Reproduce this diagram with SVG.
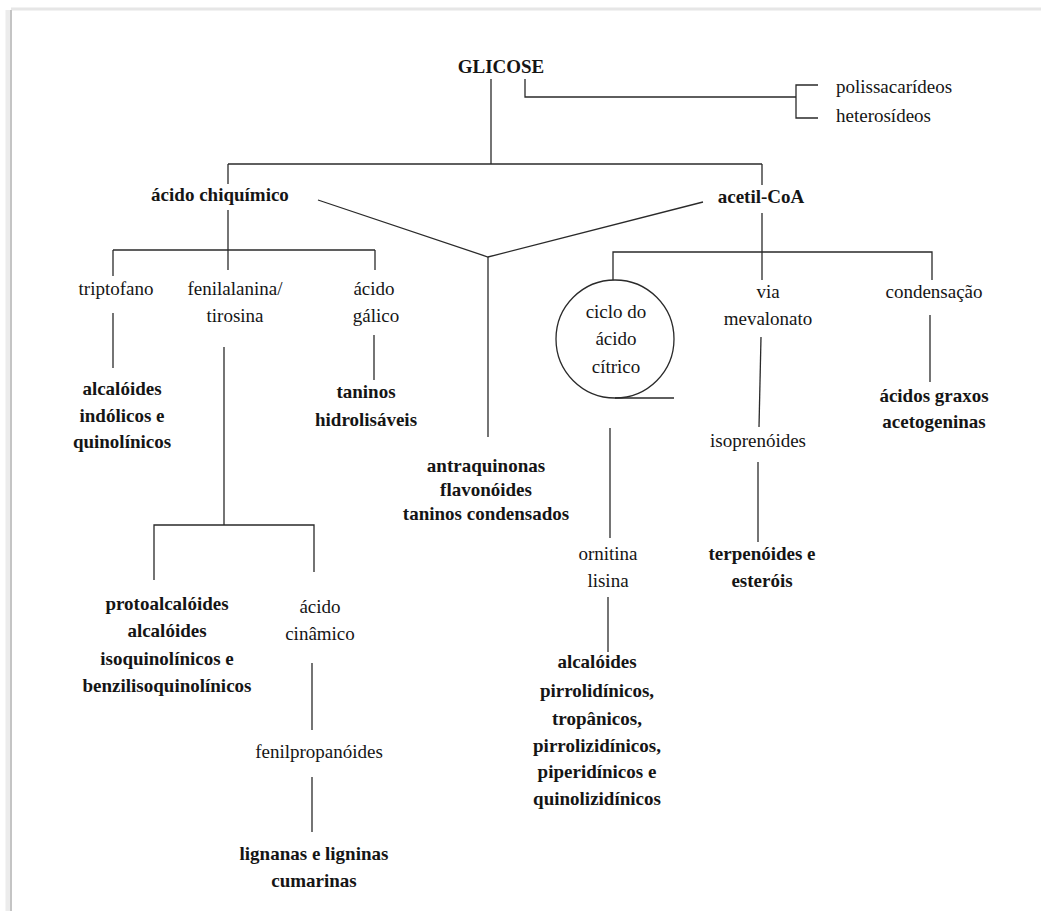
<svg xmlns="http://www.w3.org/2000/svg" width="1041" height="911" viewBox="0 0 1041 911">
<style>
.t{font-family:"Liberation Serif","Times New Roman",serif;font-size:19px;fill:#151515;text-anchor:middle}
.b{font-weight:bold}
.s{text-anchor:start}
.c{fill:none;stroke:#2a2a2a;stroke-width:1.3}
</style>
<rect x="0" y="0" width="1041" height="911" fill="#ffffff"/>
<g id="frame">
<line x1="8" y1="10" x2="8" y2="911" stroke="#ececec" stroke-width="5"/>
<line x1="11" y1="9" x2="1041" y2="9" stroke="#e6e6e6" stroke-width="3"/>
<line x1="11" y1="10" x2="11" y2="911" stroke="#c4c4c4" stroke-width="2"/>
</g>
<g id="connectors">
<path class="c" d="M491,79 V164"/>
<path class="c" d="M525,79 V97 H796"/>
<path class="c" d="M818,85 H796 V118 H818"/>
<path class="c" d="M228,164 H762"/>
<path class="c" d="M228,164 V184"/>
<path class="c" d="M228,210 V270"/>
<path class="c" d="M113,250 H375"/>
<path class="c" d="M113,250 V276"/>
<path class="c" d="M375,250 V270"/>
<path class="c" d="M113,313 V368"/>
<path class="c" d="M374,335 V380"/>
<path class="c" d="M224,347 V525"/>
<path class="c" d="M154,580 V525 H314 V572"/>
<path class="c" d="M312,663 V730"/>
<path class="c" d="M312,777 V832"/>
<path class="c" d="M318,200 L488,257 L703,202"/>
<path class="c" d="M488,257 V437"/>
<path class="c" d="M762,164 V185"/>
<path class="c" d="M762,213 V280"/>
<path class="c" d="M613,280 V252 H932 V280"/>
<path class="c" d="M615,398 H674"/>
<path class="c" d="M610,428 V538"/>
<path class="c" d="M608,597 V652"/>
<path class="c" d="M761,337 L759,427"/>
<path class="c" d="M758,462 V542"/>
<path class="c" d="M930,315 V382"/>
</g>
<g id="glicose"><text class="t b" x="501" y="73">GLICOSE</text></g>
<g id="polissacarideos"><text class="t s" x="836" y="93">polissacarídeos</text><text class="t s" x="836" y="122">heterosídeos</text></g>
<g id="acido-chiquimico"><text class="t b" x="220" y="201">ácido chiquímico</text></g>
<g id="acetil-coa"><text class="t b" x="761" y="203">acetil-CoA</text></g>
<g id="triptofano"><text class="t" x="116" y="295">triptofano</text></g>
<g id="fenilalanina"><text class="t" x="235" y="295">fenilalanina/</text><text class="t" x="235" y="322">tirosina</text></g>
<g id="acido-galico"><text class="t" x="374" y="295">ácido</text><text class="t" x="376" y="322">gálico</text></g>
<g id="alcaloides-indolicos"><text class="t b" x="122" y="395">alcalóides</text><text class="t b" x="122" y="422">indólicos e</text><text class="t b" x="122" y="448">quinolínicos</text></g>
<g id="taninos-hidrolisaveis"><text class="t b" x="366" y="398">taninos</text><text class="t b" x="366" y="426">hidrolisáveis</text></g>
<g id="antraquinonas"><text class="t b" x="486" y="472">antraquinonas</text><text class="t b" x="486" y="496">flavonóides</text><text class="t b" x="486" y="520">taninos condensados</text></g>
<g id="protoalcaloides"><text class="t b" x="167" y="610">protoalcalóides</text><text class="t b" x="167" y="637">alcalóides</text><text class="t b" x="167" y="665">isoquinolínicos e</text><text class="t b" x="167" y="692">benzilisoquinolínicos</text></g>
<g id="acido-cinamico"><text class="t" x="320" y="613">ácido</text><text class="t" x="320" y="640">cinâmico</text></g>
<g id="fenilpropanoides"><text class="t" x="319" y="758">fenilpropanóides</text></g>
<g id="lignanas"><text class="t b" x="314" y="860">lignanas e ligninas</text><text class="t b" x="314" y="887">cumarinas</text></g>
<g id="ciclo-acido-citrico"><circle class="c" cx="615" cy="339" r="59"/><text class="t" x="616" y="318">ciclo do</text><text class="t" x="616" y="345">ácido</text><text class="t" x="616" y="373">cítrico</text></g>
<g id="via-mevalonato"><text class="t" x="768" y="298">via</text><text class="t" x="768" y="325">mevalonato</text></g>
<g id="condensacao"><text class="t" x="934" y="298">condensação</text></g>
<g id="acidos-graxos"><text class="t b" x="934" y="402">ácidos graxos</text><text class="t b" x="934" y="428">acetogeninas</text></g>
<g id="isoprenoides"><text class="t" x="758" y="447">isoprenóides</text></g>
<g id="ornitina"><text class="t" x="608" y="560">ornitina</text><text class="t" x="608" y="587">lisina</text></g>
<g id="terpenoides"><text class="t b" x="762" y="560">terpenóides e</text><text class="t b" x="762" y="587">esteróis</text></g>
<g id="alcaloides-pirrolidinicos"><text class="t b" x="597" y="668">alcalóides</text><text class="t b" x="597" y="697">pirrolidínicos,</text><text class="t b" x="597" y="725">tropânicos,</text><text class="t b" x="597" y="752">pirrolizidínicos,</text><text class="t b" x="597" y="778">piperidínicos e</text><text class="t b" x="597" y="805">quinolizidínicos</text></g>
</svg>
